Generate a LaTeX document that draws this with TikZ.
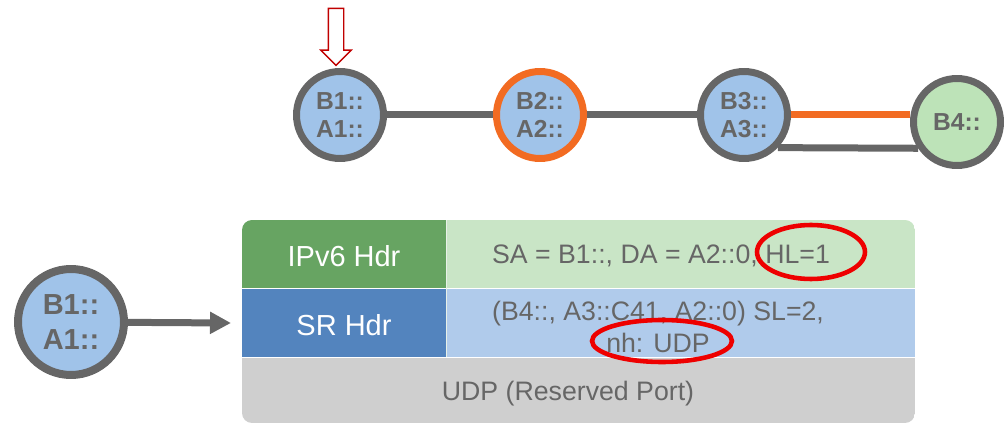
\documentclass[tikz,border=0pt]{standalone}
\usepackage{fontspec}
\setmainfont{Liberation Sans}
\usetikzlibrary{shapes.arrows, arrows.meta}

\definecolor{linegray}{HTML}{666666}
\definecolor{nodeblue}{HTML}{A0C3E9}
\definecolor{nodegreen}{HTML}{BDE3B8}
\definecolor{pathorange}{HTML}{F26B22}
\definecolor{hdrgreen}{HTML}{67A462}
\definecolor{hdrgreenlt}{HTML}{C9E5C6}
\definecolor{hdrblue}{HTML}{5384BE}
\definecolor{hdrbluelt}{HTML}{B0CBEB}
\definecolor{udpgray}{HTML}{CFCFCF}
\definecolor{markred}{HTML}{EE0000}
\definecolor{arrowred}{HTML}{C00000}

\begin{document}
\begin{tikzpicture}[x=0.02cm, y=-0.02cm,
  router/.style={circle, draw=linegray, line width=0.14cm, fill=nodeblue, text=linegray,
    font=\bfseries\fontsize{14}{16}\selectfont, align=center, minimum size=1.74cm, inner sep=0pt},
  link/.style={draw=linegray, line width=0.14cm},
  cell/.style={text=white, font=\fontsize{16.5}{18}\selectfont},
  field/.style={text=linegray, font=\fontsize{15.2}{18}\selectfont, align=center},
  highlight/.style={draw=markred, line width=2.6pt}]
  \useasboundingbox (0,0) rectangle (1005,425);
  % topology
  \node[router] (b1) at (340,115) {B1::\\A1::};
  \node[router, draw=pathorange] (b2) at (540,115) {B2::\\A2::};
  \node[router] (b3) at (744,115) {B3::\\A3::};
  \node[router, fill=nodegreen] (b4) at (957,122) {B4::};
  \draw[link] (b1) -- (b2);
  \draw[link] (b2) -- (b3);
  \draw[link, draw=pathorange] (b3.east) -- (b3.east -| b4.west);
  \draw[link] (b3.-44) -- (b4.214);
  \node[single arrow, draw=arrowred, fill=white, line width=0.8pt, shape border rotate=270,
    minimum height=1.14cm, minimum width=0.58cm, inner sep=0.14cm,
    single arrow head extend=0.15cm] (probe) at (336,33) {};
  % packet
  \node[router, minimum size=2.12cm, line width=0.16cm,
    font=\bfseries\fontsize{16.5}{20}\selectfont] (src) at (71,322) {B1::\\A1::};
  \coordinate (pkt) at (231,323);
  \draw[link, -{Triangle[length=0.42cm, width=0.42cm]}] (src) -- (pkt);
  \begin{scope}
    \clip[rounded corners=0.2cm] (242,220) rectangle (915,423);
    \fill[hdrgreen] (242,220) rectangle (446,288);
    \fill[hdrgreenlt] (446,220) rectangle (915,288);
    \fill[hdrblue] (242,288) rectangle (446,357);
    \fill[hdrbluelt] (446,288) rectangle (915,357);
    \fill[udpgray] (242,357) rectangle (915,423);
  \end{scope}
  \draw[white, line width=0.5pt] (242,288) -- (915,288);
  \draw[white, line width=0.5pt] (242,357) -- (915,357);
  \draw[white!85!hdrgreen, line width=0.5pt] (446,220) -- (446,357);
  \node[cell] (ipv6) at (344,256) {IPv6 Hdr};
  \node[field] (ipfields) at (661,256) {SA = B1::, DA = A2::0, HL=1};
  \node[cell] (srh) at (344,325) {SR Hdr};
  \node[field] (srfields) at (658,327) {(B4::, A3::C41, A2::0) SL=2,\\nh: UDP};
  \node[field] (udp) at (568,394) {UDP (Reserved Port)};
  \draw[highlight] (811,252) ellipse [x radius=1.08cm, y radius=0.54cm];
  \draw[highlight] (662,341) ellipse [x radius=1.40cm, y radius=0.42cm];
\end{tikzpicture}
\end{document}
